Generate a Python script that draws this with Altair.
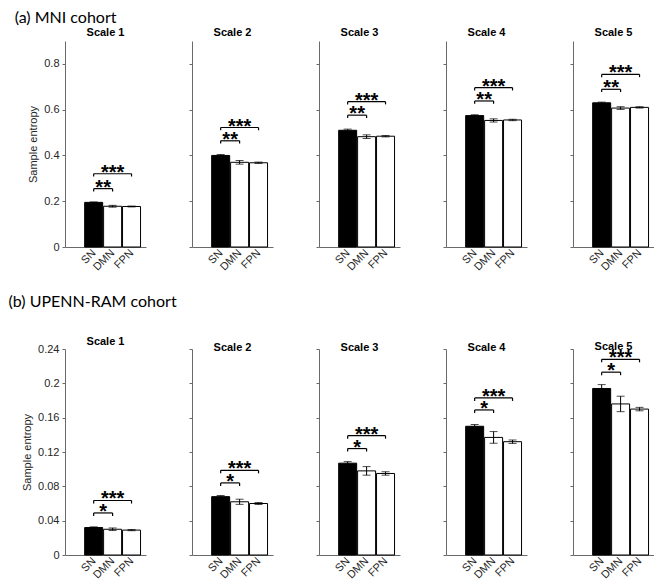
import altair as alt
import pandas as pd

networks = ["SN", "DMN", "FPN"]
positions = [1, 2, 3]
scale_names = ["Scale 1", "Scale 2", "Scale 3", "Scale 4", "Scale 5"]

# (a) MNI cohort
mni_mean = [[0.195, 0.178, 0.177], [0.400, 0.370, 0.368], [0.510, 0.482, 0.484],
            [0.574, 0.553, 0.555], [0.630, 0.607, 0.610]]
mni_err = [[0.002, 0.004, 0.002], [0.004, 0.008, 0.003], [0.005, 0.008, 0.003],
           [0.004, 0.007, 0.003], [0.003, 0.006, 0.003]]
mni_bracket_low = [0.255, 0.464, 0.576, 0.638, 0.689]
mni_bracket_high = [0.320, 0.522, 0.635, 0.696, 0.754]
mni_stars = ["**", "***"]
mni_yticks = [0, 0.2, 0.4, 0.6, 0.8]

# (b) UPENN-RAM cohort
ram_mean = [[0.032, 0.030, 0.029], [0.068, 0.062, 0.060], [0.107, 0.098, 0.095],
            [0.150, 0.137, 0.132], [0.194, 0.176, 0.170]]
ram_err = [[0.0008, 0.0015, 0.0007], [0.0012, 0.003, 0.0012], [0.0018, 0.005, 0.002],
           [0.002, 0.0068, 0.002], [0.0045, 0.009, 0.002]]
ram_bracket_low = [0.049, 0.084, 0.124, 0.169, 0.213]
ram_bracket_high = [0.0635, 0.0986, 0.139, 0.183, 0.228]
ram_stars = ["*", "***"]
ram_yticks = [0, 0.04, 0.08, 0.12, 0.16, 0.2, 0.24]

AX = "#6a6a6a"
LAB = "#262626"
FONT = "Liberation Sans"
W, H = 81, 206

label_expr = " : ".join(
    [f"datum.value == {p} ? '{n}'" for p, n in zip(positions[:-1], networks[:-1])]
    + [f"'{networks[-1]}'"]
)


def panel(name, mean, err, blo, bhi, stars, ymax, yticks, first, drop, toff):
    df = pd.DataFrame({
        "net": networks,
        "pos": positions,
        "mean": mean,
        "lo": [m - e for m, e in zip(mean, err)],
        "hi": [m + e for m, e in zip(mean, err)],
    })
    br = pd.DataFrame({
        "xa": [positions[0], positions[0]],
        "xb": [positions[1], positions[2]],
        "xm": [(positions[0] + positions[1]) / 2, (positions[0] + positions[2]) / 2],
        "yb": [blo, bhi],
        "label": stars,
    })
    ends = pd.DataFrame({
        "xe": [positions[0], positions[1], positions[0], positions[2]],
        "ye": [blo, blo, bhi, bhi],
        "ye2": [blo - drop, blo - drop, bhi - drop, bhi - drop],
    })
    title = "Sample entropy" if first else None
    xs = alt.Scale(domain=[-0.25, 3.5], nice=False, zero=False)
    ys = alt.Scale(domain=[0, ymax], nice=False)
    xaxis = alt.Axis(values=positions, labelExpr=label_expr, labelAngle=-45,
                     labelAlign="right", labelBaseline="middle", ticks=False,
                     labelPadding=4, labelOverlap=False, title=None, grid=False,
                     domainColor=AX, labelColor=LAB, labelFont=FONT,
                     labelFontSize=11)
    yaxis = alt.Axis(values=yticks, format="~g", labels=first, title=title,
                     grid=False, domainColor=AX, tickColor=AX, tickSize=3,
                     labelPadding=3, labelOverlap=False, labelColor=LAB,
                     labelFont=FONT, labelFontSize=11, titleFont=FONT,
                     titleFontSize=11, titleFontWeight="normal", titleColor=LAB,
                     titlePadding=5)

    def X(f):
        return alt.X(f, scale=xs, axis=xaxis)

    def Y(f):
        return alt.Y(f, scale=ys, axis=yaxis)

    bars = alt.Chart(df).mark_bar(size=18, stroke="black", strokeWidth=1).encode(
        x=X("pos:Q"),
        y=Y("mean:Q"),
        fill=alt.Fill("net:N", scale=alt.Scale(domain=networks,
                                               range=["black", "white", "white"]),
                      legend=None),
    )
    ebar = alt.Chart(df).mark_rule(color="black", strokeWidth=1).encode(
        x=X("pos:Q"), y=Y("lo:Q"), y2="hi:Q")
    cap_lo = alt.Chart(df).mark_tick(orient="horizontal", size=8, thickness=1,
                                     color="black").encode(x=X("pos:Q"), y=Y("lo:Q"))
    cap_hi = alt.Chart(df).mark_tick(orient="horizontal", size=8, thickness=1,
                                     color="black").encode(x=X("pos:Q"), y=Y("hi:Q"))
    hline = alt.Chart(br).mark_rule(color="black", strokeWidth=1.2).encode(
        x=X("xa:Q"), x2="xb:Q", y=Y("yb:Q"))
    vline = alt.Chart(ends).mark_rule(color="black", strokeWidth=1.2).encode(
        x=X("xe:Q"), y=Y("ye:Q"), y2="ye2:Q")
    txt = alt.Chart(br).mark_text(fontSize=20, font=FONT, fontWeight="bold",
                                  baseline="alphabetic", dy=5, color="black").encode(
        x=X("xm:Q"), y=Y("yb:Q"), text="label:N")

    return alt.layer(bars, ebar, cap_lo, cap_hi, hline, vline, txt).properties(
        width=W, height=H,
        title=alt.Title(name, fontSize=11, fontWeight="bold", font=FONT,
                        color="black", offset=toff),
    )


def row(means, errs, blo, bhi, stars, ymax, yticks, drop, label, offset, toff):
    panels = [panel(scale_names[i], means[i], errs[i], blo[i], bhi[i], stars,
                    ymax, yticks, i == 0, drop, toff) for i in range(5)]
    return alt.hconcat(*panels, spacing=42).properties(
        title=alt.Title(label, anchor="start", font="Lato", fontSize=16,
                        fontWeight="normal", color="black", offset=offset, dx=-13)
    )


row_a = row(mni_mean, mni_err, mni_bracket_low, mni_bracket_high, mni_stars,
            0.9, mni_yticks, 0.012, "(a) MNI cohort", 1, 3)
row_b = row(ram_mean, ram_err, ram_bracket_low, ram_bracket_high, ram_stars,
            0.24, ram_yticks, 0.0035, "(b) UPENN-RAM cohort", 26, -4)

chart = alt.vconcat(row_a, row_b, spacing=21).properties(
    padding={"left": 0, "top": 2, "right": 0, "bottom": 0},
    background="white",
).configure_view(stroke=None).configure_axis(labelOverlap=False)

chart.save("out.html", embed_options={"renderer": "svg", "actions": False})
